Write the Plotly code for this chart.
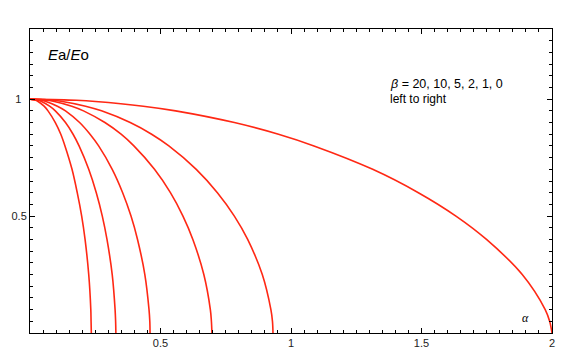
import plotly.graph_objects as go

# Ea/Eo levels shared by every curve, and alpha for each beta
ea_eo = [1, 0.995, 0.99, 0.97, 0.95, 0.9, 0.85, 0.8, 0.7, 0.6, 0.5, 0.4, 0.25, 0.1, 0.05, 0]
alpha_b20 = [0, 0.022, 0.031, 0.054, 0.069, 0.097, 0.118, 0.134, 0.161, 0.181, 0.198, 0.211, 0.225, 0.233, 0.234, 0.235]
alpha_b10 = [0, 0.031, 0.044, 0.075, 0.097, 0.136, 0.165, 0.188, 0.225, 0.254, 0.277, 0.295, 0.315, 0.326, 0.328, 0.329]
alpha_b5 = [0, 0.043, 0.061, 0.105, 0.136, 0.190, 0.230, 0.263, 0.315, 0.355, 0.387, 0.412, 0.440, 0.456, 0.459, 0.46]
alpha_b2 = [0, 0.066, 0.093, 0.160, 0.205, 0.287, 0.349, 0.398, 0.477, 0.538, 0.586, 0.624, 0.666, 0.691, 0.695, 0.697]
alpha_b1 = [0, 0.088, 0.124, 0.213, 0.274, 0.384, 0.466, 0.532, 0.637, 0.718, 0.783, 0.834, 0.890, 0.923, 0.929, 0.931]
alpha_b0 = [0, 0.178, 0.251, 0.434, 0.558, 0.783, 0.952, 1.088, 1.313, 1.488, 1.632, 1.749, 1.886, 1.974, 1.991, 2.0]

betas = ['20', '10', '5', '2', '1', '0']
curves = [alpha_b20, alpha_b10, alpha_b5, alpha_b2, alpha_b1, alpha_b0]

x_ticks = [0, 0.5, 1, 1.5, 2]
x_labels = ['', '0.5', '1', '1.5', '2']
y_ticks = [0, 0.5, 1]
y_labels = ['', '0.5', '1\u2002']

red = 'rgb(255,40,20)'

fig = go.Figure()
for b, a in zip(betas, curves):
    fig.add_trace(go.Scatter(x=a, y=ea_eo, mode='lines', name='beta=' + b,
                             line=dict(color=red, width=1.6, shape='spline', smoothing=1)))

axis_style = dict(showgrid=False, zeroline=False, showline=True, linecolor='black', linewidth=1,
                  mirror='ticks', ticks='inside', ticklen=5, tickcolor='black', tickwidth=1,
                  tickfont=dict(family='Liberation Sans', size=11, color='#222'))

fig.update_xaxes(range=[0, 2], tickvals=x_ticks, ticktext=x_labels,
                 minor=dict(dtick=0.05, ticks='inside', ticklen=3, tickcolor='black'),
                 **axis_style)
fig.update_yaxes(range=[0, 1.3], tickvals=y_ticks, ticktext=y_labels,
                 minor=dict(dtick=0.05, ticks='inside', ticklen=3, tickcolor='black'),
                 **axis_style)

fig.add_annotation(x=0.06, y=1.19, xref='x', yref='y', text='<i>E</i>a/<i>E</i>o', showarrow=False,
                   xanchor='left', font=dict(family='Liberation Sans', size=15, color='black'))
fig.add_annotation(x=1.37, y=1.063, xref='x', yref='y', text='<i>β</i> = 20, 10, 5, 2, 1, 0', showarrow=False,
                   xanchor='left', font=dict(family='Liberation Sans', size=12.5, color='black'))
fig.add_annotation(x=1.37, y=1.0, xref='x', yref='y', text='left to right', showarrow=False,
                   xanchor='left', font=dict(family='Liberation Sans', size=12, color='black'))
fig.add_annotation(x=1.9, y=0.065, xref='x', yref='y', text='<i>α</i>', showarrow=False,
                   font=dict(family='Liberation Serif', size=12, color='black'))

fig.update_layout(width=581, height=363, margin=dict(l=30, r=29, t=29, b=30),
                  plot_bgcolor='white', paper_bgcolor='white', showlegend=False)

fig.write_html("out.html", config={'displayModeBar': False},
               post_script="document.body.style.margin='0';document.body.style.overflow='hidden';")
